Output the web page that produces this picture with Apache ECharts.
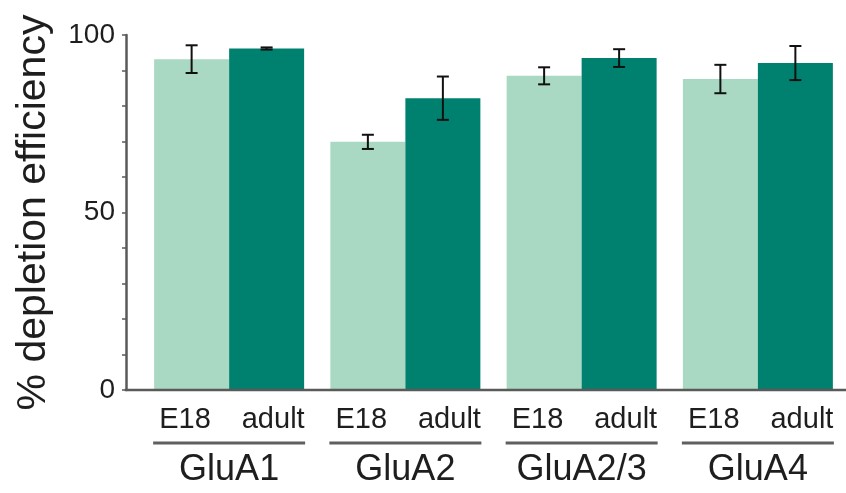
<!DOCTYPE html>
<html>
<head>
<meta charset="utf-8">
<style>
  html, body { margin: 0; padding: 0; background: #fff; }
  #chart { width: 846px; height: 493px; }
</style>
<script src="https://cdn.jsdelivr.net/npm/echarts@6/dist/echarts.min.js"></script>
</head>
<body>
<div id="chart"></div>
<script>
// Receptor subunits and developmental stages
const groups = ['GluA1', 'GluA2', 'GluA2/3', 'GluA4'];
const ages = ['E18', 'adult'];

// Mean depletion efficiency (%) and error (±) per subunit
const e18Mean = [93.2, 69.9, 88.5, 87.6];
const e18Err = [3.9, 2.0, 2.4, 4.0];
const adultMean = [96.2, 82.2, 93.5, 92.1];
const adultErr = [0.3, 6.1, 2.5, 4.8];

// Labelled y ticks
const yTicks = [0, 50, 100];

const FONT = '"Liberation Sans", Arial, Helvetica, sans-serif';
const TEXT = '#1e1e1e';
const AXIS = '#5a5a5a';
const LIGHT = '#a9d9c2';
const DARK = '#00806f';
const BAR_W = 75;
const GRID = { left: 141, right: -6, top: 35, bottom: 103 };
const Y_OFFSET = 15;

// Two-level category labels: stage under each bar, subunit under each pair
const stageLabels = [];
groups.forEach(() => ages.forEach(a => stageLabels.push(a)));

function errorBar(shift) {
  return function (params, api) {
    const i = api.value(0), m = api.value(1), e = api.value(2);
    const top = api.coord([i, m + e]);
    const bot = api.coord([i, m - e]);
    const x = top[0] + shift;
    const half = 6;
    const style = { stroke: '#111', lineWidth: 2 };
    return {
      type: 'group',
      children: [
        { type: 'line', shape: { x1: x, y1: top[1], x2: x, y2: bot[1] }, style },
        { type: 'line', shape: { x1: x - half, y1: top[1], x2: x + half, y2: top[1] }, style },
        { type: 'line', shape: { x1: x - half, y1: bot[1], x2: x + half, y2: bot[1] }, style }
      ]
    };
  };
}

// Bracket line under each pair of bars
function pairLine(params, api) {
  const p = api.coord([api.value(0), 0]);
  const y = p[1] + 53;
  return {
    type: 'line',
    shape: { x1: p[0] - BAR_W - 1, y1: y, x2: p[0] + BAR_W + 1, y2: y },
    style: { stroke: '#5f5f5f', lineWidth: 3 }
  };
}

const chart = echarts.init(document.getElementById('chart'));

chart.setOption({
  animation: false,
  textStyle: { fontFamily: FONT },
  grid: GRID,
  xAxis: [
    {
      type: 'category',
      data: groups,
      position: 'bottom',
      axisLine: { show: false },
      axisTick: { show: false },
      axisLabel: { interval: 0, fontSize: 36, color: TEXT, margin: 62, fontFamily: FONT }
    },
    {
      type: 'category',
      data: stageLabels,
      position: 'bottom',
      axisLine: { show: false },
      axisTick: { show: false },
      axisLabel: { interval: 0, fontSize: 29, color: TEXT, margin: 15, fontFamily: FONT }
    }
  ],
  yAxis: {
    type: 'value',
    min: 0,
    max: 100,
    interval: 10,
    offset: Y_OFFSET,
    name: '% depletion efficiency',
    nameLocation: 'middle',
    nameRotate: 90,
    nameGap: 72,
    nameTextStyle: { fontSize: 41, color: TEXT, fontFamily: FONT },
    axisLine: { show: true, lineStyle: { color: AXIS, width: 2.5 } },
    axisTick: { show: true, length: 4, lineStyle: { color: AXIS, width: 1.5 } },
    splitLine: { show: false },
    axisLabel: {
      fontSize: 28,
      color: TEXT,
      margin: 11,
      fontFamily: FONT,
      formatter: v => (yTicks.includes(v) ? String(v) : '')
    }
  },
  series: [
    {
      name: 'E18',
      type: 'bar',
      xAxisIndex: 0,
      data: e18Mean,
      barWidth: BAR_W,
      barGap: '0%',
      itemStyle: { color: LIGHT }
    },
    {
      name: 'adult',
      type: 'bar',
      xAxisIndex: 0,
      data: adultMean,
      barWidth: BAR_W,
      barGap: '0%',
      itemStyle: { color: DARK }
    },
    {
      type: 'custom',
      xAxisIndex: 0,
      z: 5,
      clip: false,
      renderItem: errorBar(-BAR_W / 2),
      encode: { x: 0, y: 1 },
      data: e18Mean.map((m, i) => [i, m, e18Err[i]])
    },
    {
      type: 'custom',
      xAxisIndex: 0,
      z: 5,
      clip: false,
      renderItem: errorBar(BAR_W / 2),
      encode: { x: 0, y: 1 },
      data: adultMean.map((m, i) => [i, m, adultErr[i]])
    },
    {
      type: 'custom',
      xAxisIndex: 0,
      z: 5,
      clip: false,
      renderItem: pairLine,
      encode: { x: 0, y: 1 },
      data: groups.map((g, i) => [i, 0])
    }
  ]
});

// Baseline running from the y axis to the right edge
const y0 = chart.convertToPixel({ yAxisIndex: 0 }, 0);
chart.setOption({
  graphic: [{
    type: 'line',
    z: 10,
    shape: { x1: GRID.left - Y_OFFSET - 1.25, y1: y0, x2: chart.getWidth(), y2: y0 },
    style: { stroke: AXIS, lineWidth: 2.5 }
  }]
});
</script>
</body>
</html>
